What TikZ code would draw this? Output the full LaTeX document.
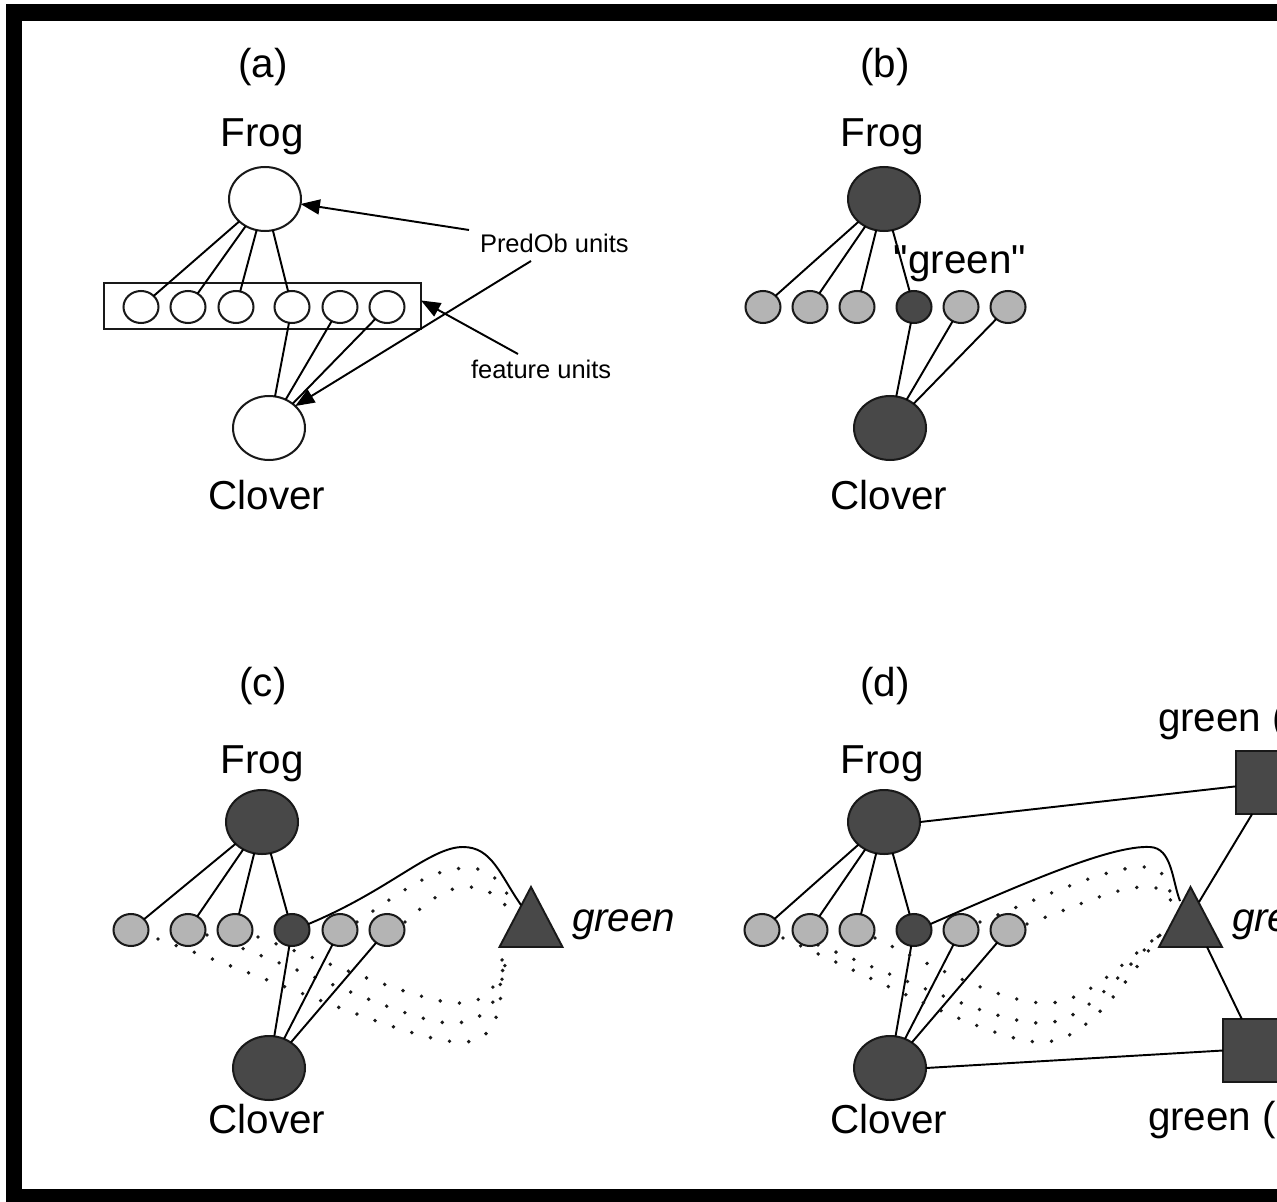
\documentclass[tikz,border=0pt]{standalone}
\usepackage{fontspec}
\setmainfont{Liberation Sans}
\newfontfamily\qfont[Ligatures=TeXOff]{Liberation Sans}
\usetikzlibrary{shapes.geometric,arrows.meta}
\definecolor{nodedark}{RGB}{72,72,72}
\definecolor{nodelight}{RGB}{180,180,180}
\begin{document}
\begin{tikzpicture}[x=0.02cm,y=-0.02cm,
  every node/.style={inner sep=0pt, outer sep=0pt},
  big/.style={ellipse, draw=black!90, line width=1.15pt, minimum width=1.44cm, minimum height=1.28cm},
  sm/.style={ellipse, draw=black!90, line width=1.15pt, minimum width=0.70cm, minimum height=0.64cm},
  hollow/.style={fill=white},
  darkf/.style={fill=nodedark},
  lightf/.style={fill=nodelight},
  lbl/.style={font=\fontsize{23}{27}\selectfont, anchor=base},
  ilbl/.style={font=\fontsize{23}{27}\selectfont\itshape, anchor=base west},
  slbl/.style={font=\fontsize{14.5}{17}\selectfont, anchor=base west},
  conn/.style={line width=1.1pt, draw=black},
  dots/.style={line width=2.2pt, line cap=round, dash pattern=on 0pt off 11pt, draw=black!90},
  arr/.style={conn, -{Triangle[length=11pt,width=8.5pt]}},
  sq/.style={rectangle, draw=black!90, line width=1.1pt, fill=nodedark, minimum size=1.26cm},
  tri/.style={draw=black!90, line width=1.1pt, fill=nodedark, line join=miter}
]
\useasboundingbox (0,0) rectangle (1277,1202);
\clip (0,0) rectangle (1277,1202);
\fill[white] (0,0) rectangle (1277,1202);
\draw[line width=0.33cm] (13.8,12.3) rectangle (1320,1197.5);

% ---------------- (a)
\node[lbl] (la) at (263,78) {(a)};
\node[lbl] (fta) at (262,147) {Frog};
\node[big, hollow] (fa) at (265,199) {};
\node[rectangle, draw=black!90, line width=1.1pt, minimum width=6.34cm, minimum height=0.92cm] (box) at (262.5,306) {};
\foreach \i/\x in {1/141,2/188,3/236,4/292,5/340,6/387}
  \node[sm, hollow] (a\i) at (\x,307) {};
\node[big, hollow] (ca) at (269,428) {};
\node[lbl] (cta) at (267,509) {Clover};
\foreach \i in {1,...,4} \draw[conn] (fa) -- (a\i);
\foreach \i in {4,5,6} \draw[conn] (a\i) -- (ca);
\node[slbl] (pred) at (480,253) {PredOb units};
\node[slbl] (feat) at (471,379) {feature units};
\coordinate (pa) at (469,230);
\coordinate (pb) at (531,261);
\coordinate (fu) at (518,354);
\draw[arr] (pa) -- (fa.-8);
\draw[arr] (pb) -- (ca.40);
\draw[arr] (fu) -- (box.2);

% ---------------- (b)
\node[lbl] (lb) at (885,78) {(b)};
\node[lbl] (ftb) at (882,147) {Frog};
\node[big, darkf] (fb) at (884,199) {};
\foreach \i/\x in {1/763,2/810,3/857,5/961,6/1008}
  \node[sm, lightf] (b\i) at (\x,307) {};
\node[sm, darkf] (b4) at (914,307) {};
\node[big, darkf] (cb) at (890,428) {};
\node[lbl] (ctb) at (889,509) {Clover};
\foreach \i in {1,...,4} \draw[conn] (fb) -- (b\i);
\foreach \i in {4,5,6} \draw[conn] (b\i) -- (cb);
\node[lbl, font=\fontsize{23}{27}\qfont] (gq) at (960,274) {"green"};

% ---------------- (c)
\node[lbl] (lc) at (263,696) {(c)};
\node[lbl] (ftc) at (262,773) {Frog};
\coordinate (tcA) at (531,887);
\coordinate (tcR) at (562.5,947);
\coordinate (tcL) at (499.5,947);
\coordinate (tcE) at (521,905);
% dotted links (c)
\draw[dots] (357,922) .. controls (400,893) and (430,868) .. (468,868) .. controls (495,868) and (505,890) .. (512,903);
\draw[dots] (405,922) .. controls (430,900) and (445,887) .. (468,887) .. controls (490,887) and (500,900) .. (510,910);
\draw[dots] (158,939) .. controls (300,990) and (420,1045) .. (465,1042) .. controls (500,1040) and (503,1000) .. (502,955);
\draw[dots] (207,935) .. controls (330,980) and (415,1025) .. (455,1023) .. controls (495,1021) and (500,990) .. (507,955);
\draw[dots] (258,937) .. controls (360,975) and (430,1005) .. (463,1003) .. controls (495,1001) and (497,975) .. (512,955);
\node[big, darkf] (fc) at (262,822) {};
\foreach \i/\x in {1/131,2/188,3/235,5/340,6/387}
  \node[sm, lightf] (c\i) at (\x,930) {};
\node[sm, darkf] (c4) at (292,930) {};
\node[big, darkf] (cc) at (269,1068) {};
\node[lbl] (ctc) at (267,1133) {Clover};
\foreach \i in {1,...,4} \draw[conn] (fc) -- (c\i);
\foreach \i in {4,5,6} \draw[conn] (c\i) -- (cc);
\draw[tri] (tcA) -- (tcR) -- (tcL) -- cycle;
\draw[conn] (c4.20) .. controls (390,890) and (430,847) .. (463,847) .. controls (492,847) and (500,875) .. (tcE);
\node[ilbl] (gc) at (572,931) {green};

% ---------------- (d)
\node[lbl] (ld) at (885,696) {(d)};
\node[lbl] (ftd) at (882,773) {Frog};
\coordinate (tdA) at (1190.5,887);
\coordinate (tdR) at (1222,947);
\coordinate (tdL) at (1159,947);
\coordinate (tdE) at (1180,901);
\coordinate (tdS) at (1199,902);
\coordinate (tdB) at (1207,947);
\node[big, darkf] (fd) at (884,822) {};
\foreach \i/\x in {1/762,2/810,3/857,5/961,6/1008}
  \node[sm, lightf] (d\i) at (\x,930) {};
\node[sm, darkf] (d4) at (914,930) {};
\node[big, darkf] (cd) at (890,1068) {};
\node[lbl] (ctd) at (889,1133) {Clover};
\foreach \i in {1,...,4} \draw[conn] (fd) -- (d\i);
\foreach \i in {4,5,6} \draw[conn] (d\i) -- (cd);
% dotted links (d)
\draw[dots] (980,922) .. controls (1060,890) and (1110,866) .. (1147,867) .. controls (1170,868) and (1168,895) .. (1175,905);
\draw[dots] (1027,924) .. controls (1080,905) and (1120,885) .. (1150,887) .. controls (1165,888) and (1170,897) .. (1175,910);
\draw[dots] (783,938) .. controls (900,990) and (1000,1045) .. (1045,1042) .. controls (1090,1040) and (1130,975) .. (1160,935);
\draw[dots] (818,945) .. controls (920,985) and (1000,1025) .. (1045,1023) .. controls (1090,1021) and (1130,960) .. (1160,935);
\draw[dots] (875,938) .. controls (950,975) and (1010,1005) .. (1050,1003) .. controls (1090,1001) and (1130,955) .. (1160,935);
\draw[tri] (tdA) -- (tdR) -- (tdL) -- cycle;
\draw[conn] (d4.20) .. controls (1020,885) and (1110,845) .. (1150,847) .. controls (1172,848) and (1172,880) .. (tdE);
\node[ilbl] (gd) at (1232,931) {green};
\node[sq] (sqT) at (1267.5,782.5) {};
\node[sq] (sqB) at (1254.5,1050.5) {};
\node[lbl, anchor=base west] (gtop) at (1158,731) {green (Frog)};
\node[lbl, anchor=base west] (gbot) at (1148,1130) {green (Clover)};
\draw[conn] (fd.east) -- (sqT.187);
\draw[conn] (cd.east) -- (sqB.west);
\draw[conn] (sqT.244) -- (tdS);
\draw[conn] (tdB) -- (sqB.112);
\end{tikzpicture}
\end{document}
